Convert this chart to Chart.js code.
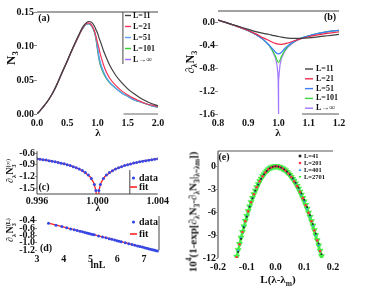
<!DOCTYPE html>
<html>
<head>
<meta charset="utf-8">
<script src="https://cdn.jsdelivr.net/npm/chart.js@4.4.1/dist/chart.umd.min.js"></script>
<style>
body { margin: 0; background: #fff; }
#fig { position: relative; width: 374px; height: 297px; overflow: hidden; font-family: "Liberation Serif", "Times New Roman", serif; color: #111; }
canvas { position: absolute; }
.t { position: absolute; font-weight: bold; white-space: nowrap; transform: translate(-50%, -50%); line-height: 1; }
.r { transform: translate(-50%, -50%) rotate(-90deg); }
sub, sup { font-size: 68%; line-height: 0; }
.st { display: inline-flex; flex-direction: column; font-size: 62%; line-height: 0.95; vertical-align: middle; }
</style>
</head>
<body>
<div id="fig">
  <canvas id="cA" width="170" height="140" style="left:0;top:0"></canvas>
  <canvas id="cB" width="170" height="140" style="left:185px;top:0"></canvas>
  <canvas id="cC" width="170" height="70" style="left:0;top:140px"></canvas>
  <canvas id="cD" width="170" height="60" style="left:0;top:210px"></canvas>
  <canvas id="cE" width="170" height="157" style="left:185px;top:140px"></canvas>

  <div class="t r" style="left:10px;top:58px;font-size:13px">N<sub>3</sub></div>
  <div class="t" style="left:98px;top:132px;font-size:11px">λ</div>
  <div class="t r" style="left:190px;top:62px;font-size:12px">∂<sub>λ</sub>N<sub>3</sub></div>
  <div class="t" style="left:278px;top:132px;font-size:11px">λ</div>
  <div class="t r" style="left:11px;top:171px;font-size:10px">∂<sub>λ</sub>N<span class="st"><span>(∞)</span><span>3</span></span></div>
  <div class="t" style="left:98px;top:208px;font-size:10px">λ</div>
  <div class="t r" style="left:11px;top:230px;font-size:10px">∂<sub>λ</sub>N<span class="st"><span>(L)</span><span>3</span></span></div>
  <div class="t" style="left:98px;top:265px;font-size:10px">lnL</div>
  <div class="t r" style="left:193px;top:212px;font-size:11px">10<sup>4</sup>(1-exp[∂<sub>λ</sub>N<sub>3</sub>-∂<sub>λ</sub>N<sub>3</sub>|<sub>λ=λm</sub>])</div>
  <div class="t" style="left:278px;top:279px;font-size:11px">L(λ-λ<sub>m</sub>)</div>

  <div class="t" style="left:44px;top:18px;font-size:10px">(a)</div>
  <div class="t" style="left:330px;top:17px;font-size:10px">(b)</div>
  <div class="t" style="left:44px;top:187px;font-size:10px">(c)</div>
  <div class="t" style="left:46px;top:248px;font-size:10px">(d)</div>
  <div class="t" style="left:224px;top:157px;font-size:10px">(e)</div>
</div>
<script>
// ---- (a) N3 against lambda ----
const lamA = [0, 0.1, 0.2, 0.3, 0.4, 0.5, 0.6, 0.7, 0.75, 0.8, 0.85, 0.9, 0.95, 0.975, 1.0, 1.025, 1.05, 1.1, 1.15, 1.2, 1.3, 1.4, 1.5, 1.6, 1.7, 1.8, 1.9, 2.0];
const nL11 = [0, 0.010, 0.022, 0.038, 0.058, 0.078, 0.099, 0.118, 0.127, 0.133, 0.136, 0.135, 0.129, 0.124, 0.119, 0.112, 0.106, 0.093, 0.082, 0.072, 0.057, 0.046, 0.037, 0.030, 0.024, 0.019, 0.015, 0.012];
const nL21 = [0, 0.010, 0.022, 0.038, 0.058, 0.078, 0.098, 0.117, 0.126, 0.132, 0.134, 0.131, 0.122, 0.114, 0.105, 0.096, 0.087, 0.072, 0.061, 0.053, 0.042, 0.034, 0.028, 0.023, 0.019, 0.015, 0.013, 0.011];
const nL51 = [0, 0.010, 0.022, 0.038, 0.058, 0.078, 0.098, 0.117, 0.125, 0.131, 0.133, 0.130, 0.121, 0.112, 0.099, 0.085, 0.075, 0.062, 0.053, 0.047, 0.038, 0.031, 0.026, 0.021, 0.018, 0.015, 0.012, 0.010];
const nL101 = [0, 0.010, 0.022, 0.038, 0.058, 0.078, 0.098, 0.117, 0.125, 0.131, 0.133, 0.130, 0.120, 0.111, 0.096, 0.082, 0.072, 0.060, 0.052, 0.046, 0.038, 0.031, 0.026, 0.021, 0.018, 0.015, 0.012, 0.010];
const nInf = [0, 0.010, 0.022, 0.038, 0.058, 0.078, 0.098, 0.117, 0.125, 0.131, 0.133, 0.130, 0.120, 0.110, 0.094, 0.080, 0.071, 0.060, 0.052, 0.046, 0.038, 0.031, 0.026, 0.021, 0.018, 0.015, 0.012, 0.010];
const xTicksA = [0, 0.5, 1.0, 1.5, 2.0];
const yTicksA = [0, 0.05, 0.10, 0.15];

// ---- (b) derivative of N3 ----
const lamB = [0.80, 0.825, 0.85, 0.875, 0.90, 0.925, 0.95, 0.97, 0.98, 0.99, 1.00, 1.01, 1.02, 1.03, 1.05, 1.075, 1.10, 1.125, 1.15, 1.175, 1.20];
const dL11 = [0.04, 0.00, -0.04, -0.08, -0.12, -0.16, -0.19, -0.21, -0.225, -0.235, -0.245, -0.257, -0.266, -0.273, -0.28, -0.277, -0.268, -0.255, -0.24, -0.225, -0.21];
const dL21 = [0.04, 0.00, -0.045, -0.09, -0.14, -0.20, -0.27, -0.32, -0.345, -0.365, -0.378, -0.383, -0.375, -0.36, -0.325, -0.285, -0.25, -0.222, -0.20, -0.182, -0.166];
const dL51 = [0.04, 0.00, -0.045, -0.09, -0.145, -0.21, -0.30, -0.40, -0.46, -0.52, -0.55, -0.52, -0.46, -0.41, -0.335, -0.275, -0.232, -0.198, -0.173, -0.153, -0.138];
const dL101 = [0.04, 0.00, -0.045, -0.09, -0.145, -0.21, -0.30, -0.41, -0.49, -0.59, -0.70, -0.59, -0.495, -0.425, -0.34, -0.277, -0.233, -0.198, -0.173, -0.153, -0.138];
const lamBInf = [0.80, 0.825, 0.85, 0.875, 0.90, 0.925, 0.95, 0.97, 0.98, 0.99, 0.995, 0.998, 0.999, 0.9995, 1.0, 1.0005, 1.001, 1.002, 1.005, 1.01, 1.02, 1.03, 1.05, 1.075, 1.10, 1.125, 1.15, 1.175, 1.20];
const dInf = [0.04, 0.00, -0.045, -0.09, -0.145, -0.21, -0.30, -0.41, -0.50, -0.62, -0.74, -0.90, -1.02, -1.15, -1.6, -1.15, -1.02, -0.90, -0.74, -0.62, -0.51, -0.44, -0.345, -0.278, -0.234, -0.199, -0.174, -0.154, -0.139];
const xTicksB = [0.8, 0.9, 1.0, 1.1, 1.2];
const yTicksB = [-1.6, -1.2, -0.8, -0.4, 0.0];

// ---- (c) L -> infinity derivative near lambda = 1 ----
const lamCdata = [0.9960, 0.9962, 0.9964, 0.9966, 0.9968, 0.9970, 0.9972, 0.9974, 0.9976, 0.9978, 0.9980, 0.9982, 0.9984, 0.9986, 0.9988, 0.9990, 0.9992, 0.9994, 0.9996, 0.9998, 0.9999,
  1.0001, 1.0002, 1.0004, 1.0006, 1.0008, 1.0010, 1.0012, 1.0014, 1.0016, 1.0018, 1.0020, 1.0022, 1.0024, 1.0026, 1.0028, 1.0030, 1.0032, 1.0034, 1.0036, 1.0038, 1.0040];
const dCdata = [-0.745, -0.757, -0.768, -0.780, -0.795, -0.808, -0.822, -0.840, -0.858, -0.876, -0.898, -0.921, -0.948, -0.975, -1.011, -1.049, -1.100, -1.161, -1.253, -1.403, -1.557,
  -1.557, -1.404, -1.252, -1.162, -1.099, -1.050, -1.010, -0.976, -0.947, -0.921, -0.898, -0.877, -0.857, -0.840, -0.823, -0.808, -0.794, -0.781, -0.768, -0.756, -0.745];
const lamCfit = [0.996, 0.997, 0.998, 0.9985, 0.999, 0.9995, 0.99975, 0.9999, 0.99995, 1.0, 1.00005, 1.0001, 1.00025, 1.0005, 1.001, 1.0015, 1.002, 1.003, 1.004];
const dCfit = [-0.745, -0.808, -0.898, -0.960, -1.050, -1.202, -1.355, -1.557, -1.709, -1.9, -1.709, -1.557, -1.355, -1.202, -1.050, -0.960, -0.898, -0.808, -0.745];
const xTicksC = [0.996, 1.000, 1.004];
const yTicksC = [-1.5, -1.2, -0.9, -0.6];

// ---- (d) finite-size minimum against lnL ----
const lnLdata = [3.43, 3.71, 3.93, 4.11, 4.26, 4.39, 4.50, 4.61, 4.70, 4.79, 4.87, 4.94, 5.01, 5.08, 5.14, 5.30, 5.45, 5.58, 5.70, 5.80, 5.90, 5.99, 6.07, 6.15, 6.30, 6.43, 6.55, 6.66, 6.76, 6.85, 6.94, 7.02, 7.10, 7.17, 7.24, 7.31, 7.37, 7.43, 7.50];
const dDdata = [-0.470, -0.522, -0.562, -0.595, -0.623, -0.647, -0.667, -0.687, -0.704, -0.720, -0.735, -0.748, -0.761, -0.774, -0.785, -0.814, -0.842, -0.866, -0.888, -0.906, -0.924, -0.941, -0.956, -0.970, -0.998, -1.022, -1.044, -1.064, -1.083, -1.099, -1.116, -1.131, -1.145, -1.158, -1.171, -1.184, -1.195, -1.206, -1.219];
const lnLfit = [3.43, 7.50];
const dDfit = [-0.470, -1.219];
const xTicksD = [3, 4, 5, 6, 7];
const yTicksD = [-1.2, -1.0, -0.8, -0.6, -0.4];

// ---- (e) scaling collapse ----
const xE41 = [-0.13, -0.12, -0.11, -0.10, -0.09, -0.08, -0.07, -0.06, -0.05, -0.04, -0.03, -0.02, -0.01, 0, 0.01, 0.02, 0.03, 0.04, 0.05, 0.06, 0.07, 0.08, 0.09, 0.10, 0.11, 0.12, 0.13, 0.14, 0.15, 0.16];
const yE41 = [-11.2, -9.5, -8.0, -6.6, -5.3, -4.2, -3.2, -2.4, -1.65, -1.05, -0.6, -0.27, -0.07, 0, -0.05, -0.18, -0.40, -0.70, -1.10, -1.58, -2.15, -2.80, -3.55, -4.40, -5.35, -6.40, -7.55, -8.80, -10.1, -11.5];
const xE201 = [-0.135, -0.125, -0.115, -0.105, -0.095, -0.085, -0.075, -0.065, -0.055, -0.045, -0.035, -0.025, -0.015, -0.005, 0.005, 0.015, 0.025, 0.035, 0.045, 0.055, 0.065, 0.075, 0.085, 0.095, 0.105, 0.115, 0.125, 0.135, 0.145, 0.155];
const yE201 = [-11.9, -10.2, -8.6, -7.2, -5.9, -4.7, -3.65, -2.75, -1.97, -1.32, -0.8, -0.41, -0.15, -0.02, -0.01, -0.1, -0.29, -0.57, -0.94, -1.4, -1.96, -2.6, -3.34, -4.17, -5.1, -6.1, -7.2, -8.4, -9.7, -11.1];
const xE401 = [-0.13, -0.12, -0.11, -0.10, -0.09, -0.08, -0.07, -0.06, -0.05, -0.04, -0.03, -0.02, -0.01, 0, 0.01, 0.02, 0.03, 0.04, 0.05, 0.06, 0.07, 0.08, 0.09, 0.10, 0.11, 0.12, 0.13, 0.14, 0.15];
const yE401 = [-11.0, -9.35, -7.85, -6.5, -5.25, -4.15, -3.2, -2.34, -1.63, -1.04, -0.59, -0.26, -0.07, 0, -0.05, -0.18, -0.41, -0.74, -1.15, -1.66, -2.25, -2.94, -3.73, -4.6, -5.57, -6.62, -7.77, -9.0, -10.35];
const xE2701 = [-0.135, -0.130, -0.125, -0.120, -0.115, -0.110, -0.105, -0.100, -0.095, -0.090, -0.085, -0.080, -0.075, -0.070, -0.065, -0.060, -0.055, -0.050, -0.045, -0.040, -0.035, -0.030, -0.025, -0.020, -0.015, -0.010, -0.005, 0,
  0.005, 0.010, 0.015, 0.020, 0.025, 0.030, 0.035, 0.040, 0.045, 0.050, 0.055, 0.060, 0.065, 0.070, 0.075, 0.080, 0.085, 0.090, 0.095, 0.100, 0.105, 0.110, 0.115, 0.120, 0.125, 0.130, 0.135, 0.140, 0.145, 0.150, 0.155, 0.160];
const yE2701 = [-11.85, -10.99, -10.16, -9.36, -8.60, -7.87, -7.17, -6.50, -5.87, -5.27, -4.70, -4.16, -3.66, -3.19, -2.75, -2.34, -1.97, -1.63, -1.32, -1.04, -0.80, -0.59, -0.41, -0.26, -0.15, -0.07, -0.02, 0,
  -0.01, -0.05, -0.10, -0.18, -0.29, -0.41, -0.56, -0.74, -0.93, -1.15, -1.39, -1.66, -1.94, -2.25, -2.59, -2.94, -3.32, -3.73, -4.15, -4.60, -5.07, -5.57, -6.08, -6.62, -7.19, -7.77, -8.38, -9.02, -9.67, -10.35, -11.05, -11.78];
const xTicksE = [-0.2, -0.1, 0.0, 0.1, 0.2];
const yTicksE = [-12, -9, -6, -3, 0];

const FONT = "'Liberation Serif', 'Times New Roman', serif";

function pairs(xs, ys) {
  return xs.map((x, i) => ({ x: x, y: ys[i] }));
}

function lineDs(label, xs, ys, color, extra) {
  return Object.assign({
    label: label, data: pairs(xs, ys), showLine: true,
    borderColor: color, backgroundColor: color, borderWidth: 1.2,
    pointRadius: 0, cubicInterpolationMode: 'monotone'
  }, extra || {});
}

function dotDs(label, xs, ys, color, style, r, extra) {
  return Object.assign({
    label: label, data: pairs(xs, ys), showLine: false, legendMarker: true,
    pointStyle: style, pointRadius: r, borderWidth: 0,
    backgroundColor: color, borderColor: color
  }, extra || {});
}

// x labels get clipped to the scale box, so no tick marks and a tall enough box
function xAxis(min, max, ticks, fmt, h, size, pad) {
  return {
    type: 'linear', min: min, max: max,
    afterBuildTicks: s => { s.ticks = ticks.map(v => ({ value: v })); },
    afterFit: s => { s.height = h; },
    ticks: { callback: v => fmt(v), font: { family: FONT, size: size, weight: 'bold' }, color: '#111', autoSkip: false, maxRotation: 0, padding: pad },
    grid: { display: false, drawTicks: false, tickLength: 0 },
    border: { display: false }
  };
}

function yAxis(min, max, ticks, fmt, w, size, tickLen) {
  return {
    type: 'linear', min: min, max: max,
    afterBuildTicks: s => { s.ticks = ticks.map(v => ({ value: v })); },
    afterFit: s => { s.width = w; },
    ticks: { callback: v => fmt(v), font: { family: FONT, size: size, weight: 'bold' }, color: '#111', autoSkip: false, padding: 0 },
    grid: { display: true, drawOnChartArea: false, drawTicks: true, tickLength: tickLen, color: '#888' },
    border: { display: false }
  };
}

function opts(padding, x, y, decor) {
  return {
    responsive: false, animation: false,
    layout: { padding: padding },
    scales: { x: x, y: y },
    plugins: { legend: { display: false }, tooltip: { enabled: false }, decor: decor }
  };
}

function marker(ctx, style, rot, x, y, r, color) {
  ctx.fillStyle = color;
  ctx.beginPath();
  if (style === 'rect') {
    ctx.rect(x - r, y - r, 2 * r, 2 * r);
  } else if (style === 'triangle') {
    const s = rot === 180 ? -1 : 1;
    ctx.moveTo(x, y - s * r * 1.2);
    ctx.lineTo(x - r * 1.1, y + s * r * 0.8);
    ctx.lineTo(x + r * 1.1, y + s * r * 0.8);
    ctx.closePath();
  } else {
    ctx.arc(x, y, r, 0, Math.PI * 2);
  }
  ctx.fill();
}

// frame pieces and in-plot legends
const decorPlugin = {
  id: 'decor',
  afterDatasetsDraw(chart, args, o) {
    const ctx = chart.ctx;
    const xs = chart.scales.x, ys = chart.scales.y;
    (o.lines || []).forEach(l => {
      ctx.save();
      ctx.strokeStyle = l.color || '#333';
      ctx.lineWidth = l.width || 1;
      ctx.beginPath();
      ctx.moveTo(xs.getPixelForValue(l.x1), ys.getPixelForValue(l.y1));
      ctx.lineTo(xs.getPixelForValue(l.x2), ys.getPixelForValue(l.y2));
      ctx.stroke();
      ctx.restore();
    });
    const L = o.legend;
    if (!L) return;
    ctx.save();
    ctx.font = 'bold ' + L.size + 'px ' + FONT;
    ctx.textBaseline = 'middle';
    chart.data.datasets.forEach((ds, i) => {
      const y = L.y + i * L.dy;
      if (ds.legendMarker) {
        marker(ctx, ds.pointStyle, ds.pointRotation || 0, L.x + L.len / 2, y, L.r, ds.backgroundColor);
      } else {
        ctx.strokeStyle = ds.borderColor;
        ctx.lineWidth = L.lw || 1.2;
        ctx.beginPath();
        ctx.moveTo(L.x, y);
        ctx.lineTo(L.x + L.len, y);
        ctx.stroke();
      }
      ctx.fillStyle = '#111';
      ctx.fillText(ds.label, L.x + L.len + L.gap, y);
    });
    ctx.restore();
  }
};
Chart.register(decorPlugin);

// (a)
new Chart(document.getElementById('cA'), {
  type: 'scatter',
  data: { datasets: [
    lineDs('L=11', lamA, nL11, '#404040'),
    lineDs('L=21', lamA, nL21, '#f2365a'),
    lineDs('L=51', lamA, nL51, '#5aa0ff'),
    lineDs('L=101', lamA, nL101, '#2ed12e'),
    lineDs('L→∞', lamA, nInf, '#9a6cff')
  ]},
  options: opts({ left: 0, top: 12, right: 12, bottom: 10 },
    xAxis(0, 2, xTicksA, v => v.toFixed(1), 16, 10, 3),
    yAxis(0, 0.15, yTicksA, v => v.toFixed(2), 37, 10, 3),
    {
      lines: [
        { x1: 0, y1: 0.15, x2: 2, y2: 0.15, color: '#444' },
        { x1: 1.43, y1: 0, x2: 2, y2: 0, color: '#666' },
        { x1: 1.42, y1: 0.15, x2: 1.42, y2: 0.0735, color: '#444' }
      ],
      legend: { x: 125, y: 15.5, dy: 11, len: 6, gap: 2, size: 8, lw: 1.4 }
    })
});

// (b)
new Chart(document.getElementById('cB'), {
  type: 'scatter',
  data: { datasets: [
    lineDs('L=11', lamB, dL11, '#404040'),
    lineDs('L=21', lamB, dL21, '#ee2a4a'),
    lineDs('L=51', lamB, dL51, '#3c7cff'),
    lineDs('L=101', lamB, dL101, '#3ad83a'),
    lineDs('L→∞', lamBInf, dInf, '#a277ff', { cubicInterpolationMode: 'default', tension: 0 })
  ]},
  options: opts({ left: 0, top: 11, right: 16, bottom: 10 },
    xAxis(0.8, 1.2, xTicksB, v => v.toFixed(1), 16, 10, 3),
    yAxis(-1.6, 0.2, yTicksB, v => v.toFixed(1), 33, 10, 3),
    {
      lines: [
        { x1: 0.8, y1: 0.2, x2: 1.2, y2: 0.2, color: '#444' },
        { x1: 1.078, y1: -1.6, x2: 1.2, y2: -1.6, color: '#555' }
      ],
      legend: { x: 120, y: 69, dy: 9.8, len: 8, gap: 3, size: 8, lw: 1.4 }
    })
});

// (c)
new Chart(document.getElementById('cC'), {
  type: 'scatter',
  data: { datasets: [
    dotDs('data', lamCdata, dCdata, '#3548e6', 'circle', 1.5),
    lineDs('fit', lamCfit, dCfit, '#ff2222', { cubicInterpolationMode: 'default', tension: 0, borderWidth: 1.3 })
  ]},
  options: opts({ left: 0, top: 10, right: 12, bottom: 2 },
    xAxis(0.996, 1.004, xTicksC, v => v.toFixed(3), 14, 10, 1),
    yAxis(-1.65, -0.52, yTicksC, v => v.toFixed(1), 37, 10, 2),
    {
      lines: [
        { x1: 0.996, y1: -0.55, x2: 0.996, y2: -1.65, color: '#444' },
        { x1: 0.996, y1: -1.65, x2: 1.004, y2: -1.65, color: '#444' },
        { x1: 1.00215, y1: -1.037, x2: 1.00215, y2: -1.65, color: '#444' }
      ],
      legend: { x: 130, y: 38, dy: 9, len: 7, gap: 2, size: 10, r: 1.6, lw: 1.6 }
    })
});

// (d)
new Chart(document.getElementById('cD'), {
  type: 'scatter',
  data: { datasets: [
    dotDs('data', lnLdata, dDdata, '#3548e6', 'circle', 1.5),
    lineDs('fit', lnLfit, dDfit, '#ff2222', { cubicInterpolationMode: 'default', tension: 0, borderWidth: 1.3 })
  ]},
  options: opts({ left: 0, top: 3, right: 11, bottom: 4 },
    xAxis(3, 7.56, xTicksD, v => String(v), 13, 10, 0),
    yAxis(-1.275, -0.275, yTicksD, v => v.toFixed(1), 37, 10, 2),
    {
      lines: [
        { x1: 7.56, y1: -0.275, x2: 7.56, y2: -1.2, color: '#444' }
      ],
      legend: { x: 130, y: 12, dy: 12, len: 7, gap: 2, size: 10, r: 1.6, lw: 1.6 }
    })
});

// (e) the largest size is dense enough to read as a band, so its points are joined
new Chart(document.getElementById('cE'), {
  type: 'scatter',
  data: { datasets: [
    dotDs('L=41', xE41, yE41, '#222222', 'rect', 1.2),
    dotDs('L=201', xE201, yE201, '#ff3344', 'circle', 1.3),
    dotDs('L=401', xE401, yE401, '#3399ff', 'triangle', 1.4),
    dotDs('L=2701', xE2701, yE2701, '#39e639', 'triangle', 1.6,
      { pointRotation: 180, showLine: true, borderWidth: 2.4, borderColor: '#44ee44' })
  ]},
  options: opts({ left: 0, top: 11, right: 22, bottom: 23 },
    xAxis(-0.2, 0.2, xTicksE, v => v.toFixed(1), 16, 10, 3),
    yAxis(-12, 2, yTicksE, v => String(v), 33, 10, 2),
    {
      lines: [
        { x1: -0.2, y1: 2, x2: -0.2, y2: -12, color: '#9a9a9a', width: 2 },
        { x1: -0.2, y1: 2, x2: 0.2, y2: 2, color: '#555' }
      ],
      legend: { x: 115, y: 16, dy: 7, len: 0, gap: 4, size: 6.5, r: 1.3 }
    })
});
</script>
</body>
</html>
